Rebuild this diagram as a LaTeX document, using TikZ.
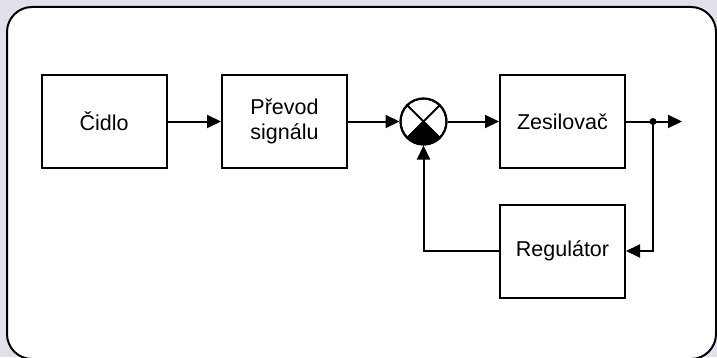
\documentclass[tikz,border=0pt]{standalone}
\usepackage{fontspec}
\setmainfont{Liberation Sans}
\usetikzlibrary{arrows.meta}
\definecolor{bgcol}{RGB}{225,225,236}

\begin{document}
\begin{tikzpicture}[x = 1pt, y = 1pt, line width = 2pt,
  blok/.style = {draw, fill=white, minimum width=125pt, minimum height=93pt, align=center,
    font=\fontsize{21.5}{25}\selectfont},
  sipka/.style = {-{Triangle[length=14pt,width=13pt]}},]

\useasboundingbox (0,0) rectangle (717,357);
\fill[bgcol] (0,0) rectangle (717,357);
\draw[fill=white, rounded corners=25pt] (7,-2) rectangle (716,350);

\node[blok] (cidlo) at (104,235.5) {Čidlo};
\node[blok] (prevod) at (284.5,235.5) {Převod\\signálu};
\node[draw, circle, fill=white, minimum size=46pt, inner sep=0pt] (sum) at (423.5,235.5) {};
\node[blok] (zesil) at (562.5,235.5) {Zesilovač};
\node[blok] (regul) at (562.5,106) {Regulátor};
\coordinate (split) at (653,235.5);
\coordinate (out) at (682,235.5);

% soucetni clen
\fill (sum.center) -- (sum.-45) arc[start angle=-45, end angle=-135, radius=23pt] -- cycle;
\draw (sum.45) -- (sum.-135);
\draw (sum.135) -- (sum.-45);
\draw (sum) circle[radius=23pt];

\draw[sipka] (cidlo) -- (prevod);
\draw[sipka] (prevod) -- (sum);
\draw[sipka] (sum) -- (zesil);
\draw[sipka] (zesil) -- (out);
\fill (split) circle[radius=3.5pt];
\draw[sipka] (split) |- (regul.east);
\draw[sipka] (regul.west) -| (sum.south);

\end{tikzpicture}
\end{document}
